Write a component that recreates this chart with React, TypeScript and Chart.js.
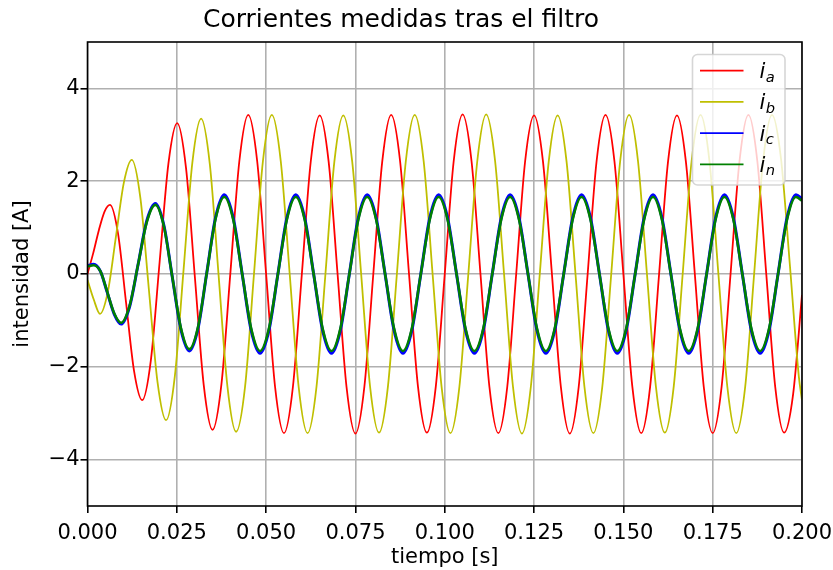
import React, { useEffect, useRef } from 'react';
import { Chart, registerables } from 'chart.js';

Chart.register(...registerables);

const TITLE = 'Corrientes medidas tras el filtro';
const X_LABEL = 'tiempo [s]';
const Y_LABEL = 'intensidad [A]';
const X_TICKS = [0, 0.025, 0.05, 0.075, 0.1, 0.125, 0.15, 0.175, 0.2];
const Y_TICKS = [-4, -2, 0, 2, 4];
const LEGEND_MAIN = 'i';
const LEGEND_SUBS = ['a', 'b', 'c', 'n'];
const COLORS = ['#ff0000', '#bfbf00', '#0000ff', '#008000'];

// i_a
const iaT = [
  0, 0.0016, 0.0032, 0.0048, 0.0063, 0.00855, 0.0108, 0.01305, 0.0153, 0.01775,
  0.0202, 0.02265, 0.0251, 0.02758, 0.03005, 0.03253, 0.035, 0.0375, 0.04, 0.0425,
  0.045, 0.0475, 0.05, 0.0525, 0.055, 0.0575, 0.06, 0.0625,
  0.065, 0.0675, 0.07, 0.0725, 0.075, 0.0775, 0.08, 0.0825,
  0.085, 0.0875, 0.09, 0.0925, 0.095, 0.0975, 0.1, 0.1025,
  0.105, 0.1075, 0.11, 0.1125, 0.115, 0.1175, 0.12, 0.1225,
  0.125, 0.1275, 0.13, 0.1325, 0.135, 0.1375, 0.14, 0.1425,
  0.145, 0.1475, 0.15, 0.1525, 0.155, 0.1575, 0.16, 0.1625,
  0.165, 0.1675, 0.17, 0.1725, 0.175, 0.1775, 0.18, 0.1825,
  0.185, 0.1875, 0.19, 0.1925, 0.195, 0.1975, 0.2,
];
const iaV = [
  0, 0.45, 0.95, 1.35, 1.49, 0.87, -0.62, -2.1, -2.72, -1.85,
  0.27, 2.38, 3.25, 2.28, -0.06, -2.39, -3.36, -2.37, 0.03, 2.43,
  3.43, 2.43, 0, -2.43, -3.43, -2.43, 0, 2.43,
  3.42, 2.42, 0, -2.43, -3.44, -2.43, 0, 2.42,
  3.43, 2.43, 0, -2.42, -3.42, -2.42, 0, 2.43,
  3.44, 2.43, 0, -2.43, -3.43, -2.43, 0, 2.43,
  3.42, 2.42, 0, -2.43, -3.44, -2.43, 0, 2.43,
  3.43, 2.43, 0, -2.42, -3.43, -2.42, 0, 2.42,
  3.42, 2.42, 0, -2.43, -3.43, -2.43, 0, 2.43,
  3.43, 2.43, 0, -2.43, -3.42, -2.6, -0.45,
];

// i_b
const ibT = [
  0, 0.00175, 0.0035, 0.005725, 0.00795, 0.010175, 0.0124, 0.0148, 0.0172, 0.0196,
  0.022, 0.02445, 0.0269, 0.02935, 0.0318, 0.03425, 0.0367, 0.03915,
  0.0416, 0.0441, 0.0466, 0.0491, 0.0516, 0.0541, 0.0566, 0.0591,
  0.0616, 0.0641, 0.0666, 0.0691, 0.0716, 0.0741, 0.0766, 0.0791,
  0.0816, 0.0841, 0.0866, 0.0891, 0.0916, 0.0941, 0.0966, 0.0991,
  0.1016, 0.1041, 0.1066, 0.1091, 0.1116, 0.1141, 0.1166, 0.1191,
  0.1216, 0.1241, 0.1266, 0.1291, 0.1316, 0.1341, 0.1366, 0.1391,
  0.1416, 0.1441, 0.1466, 0.1491, 0.1516, 0.1541, 0.1566, 0.1591,
  0.1616, 0.1641, 0.1666, 0.1691, 0.1716, 0.1741, 0.1766, 0.1791,
  0.1816, 0.1841, 0.1866, 0.1891, 0.1916, 0.1941, 0.1966, 0.1991, 0.2,
];
const ibV = [
  -0.13, -0.55, -0.86, -0.37, 0.8, 1.97, 2.46, 1.64, -0.35, -2.33,
  -3.15, -2.2, 0.1, 2.4, 3.35, 2.36, -0.03, -2.41,
  -3.4, -2.43, 0, 2.43, 3.43, 2.43, 0, -2.43,
  -3.43, -2.43, 0, 2.42, 3.42, 2.42, 0, -2.43,
  -3.42, -2.42, 0, 2.43, 3.43, 2.43, 0, -2.42,
  -3.43, -2.43, 0, 2.43, 3.44, 2.43, 0, -2.43,
  -3.44, -2.43, 0, 2.42, 3.42, 2.42, 0, -2.43,
  -3.43, -2.43, 0, 2.43, 3.43, 2.43, 0, -2.42,
  -3.42, -2.42, 0, 2.43, 3.43, 2.43, 0, -2.43,
  -3.43, -2.43, 0, 2.43, 3.43, 2.5, 0.2, -2.2, -2.72,
];

// i_c and i_n share sample times
const cnT = [
  0, 0.0017, 0.0036, 0.0055, 0.0075, 0.0094, 0.0118, 0.0142, 0.0166, 0.019,
  0.02138, 0.02375, 0.02613, 0.0285, 0.03095, 0.0334, 0.03585,
  0.0383, 0.0408, 0.0433, 0.0458, 0.0483, 0.0508, 0.0533, 0.0558,
  0.0583, 0.0608, 0.0633, 0.0658, 0.0683, 0.0708, 0.0733, 0.0758,
  0.0783, 0.0808, 0.0833, 0.0858, 0.0883, 0.0908, 0.0933, 0.0958,
  0.0983, 0.1008, 0.1033, 0.1058, 0.1083, 0.1108, 0.1133, 0.1158,
  0.1183, 0.1208, 0.1233, 0.1258, 0.1283, 0.1308, 0.1333, 0.1358,
  0.1383, 0.1408, 0.1433, 0.1458, 0.1483, 0.1508, 0.1533, 0.1558,
  0.1583, 0.1608, 0.1633, 0.1658, 0.1683, 0.1708, 0.1733, 0.1758,
  0.1783, 0.1808, 0.1833, 0.1858, 0.1883, 0.1908, 0.1933, 0.1958,
  0.1983, 0.2,
];
const icV = [
  0.18, 0.21, 0.06, -0.39, -0.87, -1.08, -0.7, 0.22, 1.15, 1.52,
  1.05, -0.07, -1.19, -1.66, -1.17, 0.03, 1.22,
  1.71, 1.21, 0, -1.21, -1.71, -1.21, 0, 1.21,
  1.71, 1.21, 0, -1.21, -1.71, -1.21, 0, 1.21,
  1.71, 1.21, 0, -1.21, -1.71, -1.21, 0, 1.21,
  1.71, 1.21, 0, -1.21, -1.71, -1.21, 0, 1.21,
  1.71, 1.21, 0, -1.21, -1.71, -1.21, 0, 1.21,
  1.71, 1.21, 0, -1.21, -1.71, -1.21, 0, 1.21,
  1.71, 1.21, 0, -1.21, -1.71, -1.21, 0, 1.21,
  1.71, 1.21, 0, -1.21, -1.71, -1.21, 0, 1.21,
  1.71, 1.62,
];
const inV = [
  0.16, 0.19, 0.06, -0.38, -0.85, -1.05, -0.68, 0.22, 1.12, 1.49,
  1.03, -0.07, -1.16, -1.62, -1.14, 0.03, 1.19,
  1.66, 1.17, 0, -1.17, -1.66, -1.17, 0, 1.17,
  1.66, 1.17, 0, -1.17, -1.66, -1.17, 0, 1.17,
  1.66, 1.17, 0, -1.17, -1.66, -1.17, 0, 1.17,
  1.66, 1.17, 0, -1.17, -1.66, -1.17, 0, 1.17,
  1.66, 1.17, 0, -1.17, -1.66, -1.17, 0, 1.17,
  1.66, 1.17, 0, -1.17, -1.66, -1.17, 0, 1.17,
  1.66, 1.17, 0, -1.17, -1.66, -1.17, 0, 1.17,
  1.66, 1.17, 0, -1.17, -1.66, -1.17, 0, 1.17,
  1.66, 1.58,
];

const FONT = 'DejaVu Sans';

function zip(t: number[], v: number[]) {
  return t.map((x, i) => ({ x, y: v[i] }));
}

const frameLegendPlugin = {
  id: 'frameLegend',
  afterDatasetsDraw(chart: any) {
    const { ctx, chartArea: a } = chart;
    ctx.save();
    // spines
    ctx.strokeStyle = '#000';
    ctx.lineWidth = 1.6;
    ctx.strokeRect(a.left, a.top, a.right - a.left, a.bottom - a.top);

    // legend box
    const bx = a.right - 109.5;
    const by = a.top + 12.5;
    const bw = 92.5;
    const bh = 130.5;
    ctx.beginPath();
    if ((ctx as any).roundRect) ctx.roundRect(bx, by, bw, bh, 5);
    else ctx.rect(bx, by, bw, bh);
    ctx.fillStyle = 'rgba(255,255,255,0.8)';
    ctx.fill();
    ctx.strokeStyle = 'rgba(204,204,204,0.8)';
    ctx.lineWidth = 1.6;
    ctx.stroke();

    LEGEND_SUBS.forEach((sub, i) => {
      const y = by + 16.2 + i * 31.2;
      ctx.beginPath();
      ctx.strokeStyle = COLORS[i];
      ctx.lineWidth = 1.7;
      ctx.moveTo(bx + 7.5, y);
      ctx.lineTo(bx + 51, y);
      ctx.stroke();
      ctx.fillStyle = '#000';
      ctx.textAlign = 'left';
      ctx.textBaseline = 'alphabetic';
      ctx.font = `italic 21px "${FONT}"`;
      const tx = bx + 67;
      ctx.fillText(LEGEND_MAIN, tx, y + 7.5);
      const w = ctx.measureText(LEGEND_MAIN).width;
      ctx.font = `italic 14.7px "${FONT}"`;
      ctx.fillText(sub, tx + w + 0.5, y + 11);
    });
    ctx.restore();
  },
};

export default function App() {
  const ref = useRef<HTMLCanvasElement | null>(null);

  useEffect(() => {
    if (!ref.current) return;
    Chart.defaults.font.family = FONT;
    Chart.defaults.color = '#000';
    const series = [
      { t: iaT, v: iaV },
      { t: ibT, v: ibV },
      { t: cnT, v: icV },
      { t: cnT, v: inV },
    ];
    const widths = [1.8, 1.8, 3.0, 2.6];
    const chart = new Chart(ref.current, {
      type: 'line',
      data: {
        datasets: series.map((s, i) => ({
          label: LEGEND_MAIN + '_' + LEGEND_SUBS[i],
          data: zip(s.t, s.v),
          borderColor: COLORS[i],
          backgroundColor: COLORS[i],
          borderWidth: widths[i],
          pointRadius: 0,
          fill: false,
          cubicInterpolationMode: 'monotone' as const,
          order: 4 - i,
        })),
      },
      options: {
        responsive: false,
        animation: false,
        devicePixelRatio: 1,
        layout: { padding: { left: 0, right: 31, top: 0, bottom: 0 } },
        plugins: {
          legend: { display: false },
          tooltip: { enabled: false },
          title: {
            display: true,
            text: TITLE,
            color: '#000',
            font: { family: FONT, size: 25, weight: 'normal' },
            padding: { top: 5, bottom: 7 },
          },
        },
        scales: {
          x: {
            type: 'linear',
            min: 0,
            max: 0.2,
            afterBuildTicks: (axis: any) => {
              axis.ticks = X_TICKS.map((v) => ({ value: v }));
            },
            afterFit: (scale: any) => {
              scale.height = 64;
              scale.paddingLeft = 0;
              scale.paddingRight = 0;
            },
            ticks: {
              autoSkip: false,
              maxRotation: 0,
              padding: 8,
              color: '#000',
              font: { family: FONT, size: 21 },
              callback: (v: any) => Number(v).toFixed(3),
            },
            grid: {
              color: '#b0b0b0',
              lineWidth: 1.6,
              tickLength: 7,
              tickColor: '#000',
              tickWidth: 1.6,
            },
            border: { display: false },
            title: {
              display: true,
              text: X_LABEL,
              color: '#000',
              font: { family: FONT, size: 21 },
              padding: { top: 0, bottom: 0 },
            },
          },
          y: {
            type: 'linear',
            min: -5,
            max: 5,
            afterBuildTicks: (axis: any) => {
              axis.ticks = Y_TICKS.map((v) => ({ value: v }));
            },
            afterFit: (scale: any) => {
              scale.width = 87.5;
              scale.paddingTop = 0;
              scale.paddingBottom = 0;
            },
            ticks: {
              autoSkip: false,
              padding: 1,
              color: '#000',
              font: { family: FONT, size: 21 },
              callback: (v: any) => (Number(v) < 0 ? '\u2212' + Math.abs(Number(v)) : String(v)),
            },
            grid: {
              color: '#b0b0b0',
              lineWidth: 1.6,
              tickLength: 7,
              tickColor: '#000',
              tickWidth: 1.6,
            },
            border: { display: false },
            title: {
              display: true,
              text: Y_LABEL,
              color: '#000',
              font: { family: FONT, size: 21 },
              padding: { top: 10, bottom: 0 },
            },
          },
        },
      },
      plugins: [frameLegendPlugin],
    } as any);
    return () => chart.destroy();
  }, []);

  return (
    <div style={{ position: 'absolute', left: 0, top: 0, width: 833, height: 570, background: '#fff' }}>
      <canvas ref={ref} width={833} height={570} style={{ width: 833, height: 570, display: 'block' }} />
    </div>
  );
}
